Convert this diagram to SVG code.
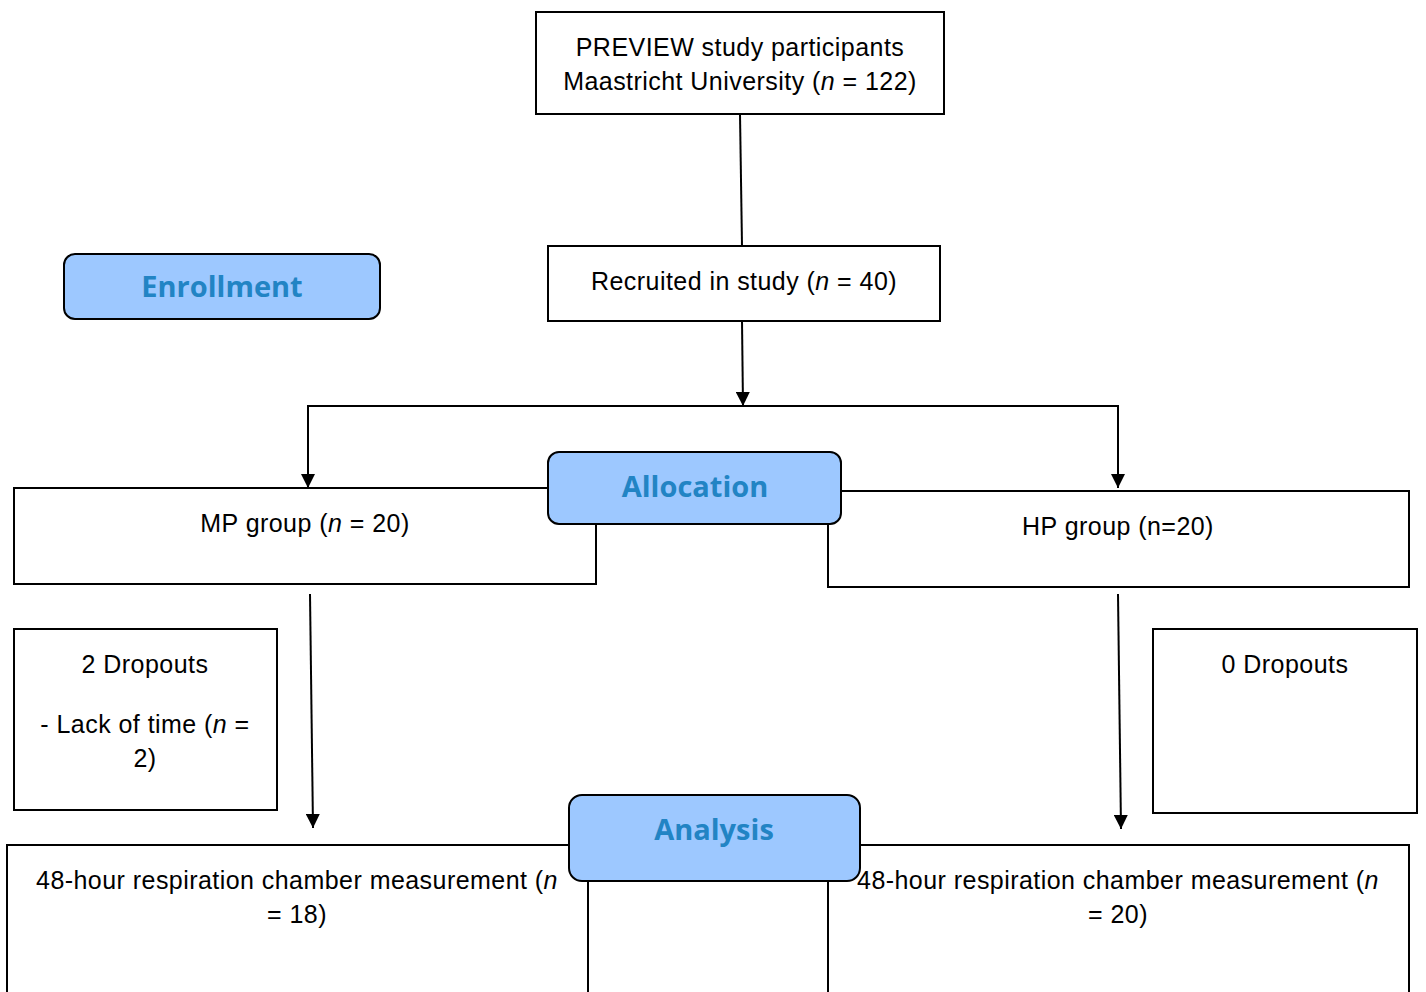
<svg xmlns="http://www.w3.org/2000/svg" width="1426" height="992" viewBox="0 0 1426 992">
<style>
.box{fill:#ffffff;stroke:#000000;stroke-width:2}
.lbl{fill:#9dc8ff;stroke:#000000;stroke-width:2}
.t{font-family:"Liberation Sans",Arial,sans-serif;font-size:25px;letter-spacing:0.45px;fill:#000000;text-anchor:middle}
.h{font-family:"Open Sans","Noto Sans",sans-serif;font-weight:700;font-size:29px;fill:#2284c4;text-anchor:middle}
.c{stroke:#000000;stroke-width:2;fill:none}
</style>
<defs>
<marker id="ah" viewBox="0 0 14 14" refX="14" refY="7" markerWidth="14" markerHeight="14" markerUnits="userSpaceOnUse" orient="auto">
<path d="M0,0 L14,7 L0,14 Z" fill="#000000"/>
</marker>
</defs>
<g id="connectors">
<line class="c" x1="740" y1="114" x2="742" y2="246"/>
<line class="c" x1="742" y1="321" x2="743" y2="406" marker-end="url(#ah)"/>
<polyline class="c" points="308,488 308,406 1118,406 1118,488"/>
<line class="c" x1="308" y1="420" x2="308" y2="488" marker-end="url(#ah)"/>
<line class="c" x1="1118" y1="420" x2="1118" y2="488" marker-end="url(#ah)"/>
<line class="c" x1="310" y1="594" x2="313" y2="828" marker-end="url(#ah)"/>
<line class="c" x1="1118" y1="594" x2="1121" y2="829" marker-end="url(#ah)"/>
</g>
<g id="preview">
<rect class="box" x="536" y="12" width="408" height="102"/>
<text class="t" x="740" y="56">PREVIEW study participants</text>
<text class="t" x="740" y="90">Maastricht University (<tspan font-style="italic">n</tspan> = 122)</text>
</g>
<g id="recruited">
<rect class="box" x="548" y="246" width="392" height="75"/>
<text class="t" x="744" y="290">Recruited in study (<tspan font-style="italic">n</tspan> = 40)</text>
</g>
<g id="enrollment">
<rect class="lbl" x="64" y="254" width="316" height="65" rx="11"/>
<text class="h" x="222" y="297">Enrollment</text>
</g>
<g id="mp-group">
<rect class="box" x="14" y="488" width="582" height="96"/>
<text class="t" x="305" y="532">MP group (<tspan font-style="italic">n</tspan> = 20)</text>
</g>
<g id="hp-group">
<rect class="box" x="828" y="491" width="581" height="96"/>
<text class="t" x="1118" y="535">HP group (n=20)</text>
</g>
<g id="allocation">
<rect class="lbl" x="548" y="452" width="293" height="72" rx="11"/>
<text class="h" x="695" y="497">Allocation</text>
</g>
<g id="dropouts-mp">
<rect class="box" x="14" y="629" width="263" height="181"/>
<text class="t" x="145" y="673">2 Dropouts</text>
<text class="t" x="145" y="733">- Lack of time (<tspan font-style="italic">n</tspan> =</text>
<text class="t" x="145" y="767">2)</text>
</g>
<g id="dropouts-hp">
<rect class="box" x="1153" y="629" width="264" height="184"/>
<text class="t" x="1285" y="673">0 Dropouts</text>
</g>
<g id="measure-mp">
<rect class="box" x="7" y="845" width="581" height="160"/>
<text class="t" x="297" y="889">48-hour respiration chamber measurement (<tspan font-style="italic">n</tspan></text>
<text class="t" x="297" y="923">= 18)</text>
</g>
<g id="measure-hp">
<rect class="box" x="828" y="845" width="581" height="160"/>
<text class="t" x="1118" y="889">48-hour respiration chamber measurement (<tspan font-style="italic">n</tspan></text>
<text class="t" x="1118" y="923">= 20)</text>
</g>
<g id="analysis">
<rect class="lbl" x="569" y="795" width="291" height="86" rx="13"/>
<text class="h" x="714" y="840">Analysis</text>
</g>
</svg>
